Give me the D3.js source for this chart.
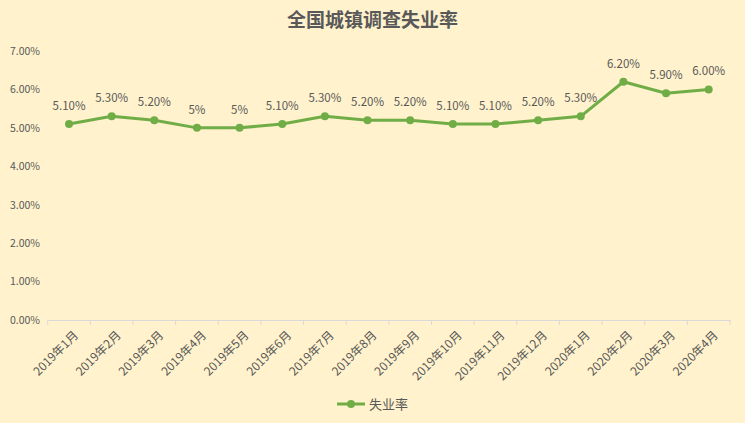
<!DOCTYPE html>
<html><head><meta charset="utf-8">
<script src="https://cdn.jsdelivr.net/npm/d3@7"></script>
<style>
html,body{margin:0;padding:0;background:#FFF2CC;}
svg{display:block;}
text{font-family:"Noto Sans CJK SC","Open Sans",sans-serif;}
</style></head>
<body>
<svg id="chart" width="745" height="423"></svg>
<script>
const categories = ["2019年1月","2019年2月","2019年3月","2019年4月","2019年5月","2019年6月","2019年7月","2019年8月","2019年9月","2019年10月","2019年11月","2019年12月","2020年1月","2020年2月","2020年3月","2020年4月"];
const values = [5.1,5.3,5.2,5.0,5.0,5.1,5.3,5.2,5.2,5.1,5.1,5.2,5.3,6.2,5.9,6.0];
const valueLabels = ["5.10%","5.30%","5.20%","5%","5%","5.10%","5.30%","5.20%","5.20%","5.10%","5.10%","5.20%","5.30%","6.20%","5.90%","6.00%"];
const yTicks = [0,1,2,3,4,5,6,7];
const title = "全国城镇调查失业率";
const seriesName = "失业率";

const svg = d3.select("#chart");
const W = 745, H = 423;
const color = "#70AD47", textColor = "#595959";
svg.append("rect").attr("width",W).attr("height",H).attr("fill","#FFF2CC");

const x = d3.scaleBand().domain(categories).range([47.7, 730]);
const y = d3.scaleLinear().domain([0,7]).range([320, 51]);

svg.append("text").attr("x", W/2).attr("y", 27).attr("text-anchor","middle")
  .attr("font-size", 19).attr("font-weight","bold").attr("fill", textColor).text(title);

// y axis labels
const yAxis = d3.axisLeft(y).tickValues(yTicks).tickSize(0).tickPadding(7)
  .tickFormat(d => d.toFixed(2) + "%");
const yg = svg.append("g").attr("transform","translate(47,0)").call(yAxis);
yg.select(".domain").remove();
yg.selectAll("text").attr("font-size", 10.5).attr("fill", textColor);

// x axis
const xAxis = d3.axisBottom(x).tickSize(5).tickSizeOuter(0);
const xg = svg.append("g").attr("transform","translate(0,320)").call(xAxis);
xg.select(".domain").attr("stroke","#D9D9D9").attr("stroke-width",1);
xg.selectAll(".tick line").remove();
const bounds = categories.map(c => x(c)).concat([x.range()[1]]);
xg.selectAll(".bt").data(bounds).enter().append("line")
  .attr("x1", d=>d).attr("x2", d=>d).attr("y1",0).attr("y2",5)
  .attr("stroke","#D9D9D9");
xg.selectAll(".tick text")
  .attr("font-size", 12).attr("fill", textColor)
  .attr("text-anchor","end")
  .attr("transform","translate(7,13) rotate(-45)")
  .attr("dy","0.35em").attr("y",0).attr("x",0);

const cx = c => x(c) + x.bandwidth()/2;
const line = d3.line().x((d,i)=>cx(categories[i])).y(d=>y(d));
svg.append("path").datum(values).attr("d", line)
  .attr("fill","none").attr("stroke", color).attr("stroke-width", 3).attr("stroke-linejoin","round");
svg.selectAll(".pt").data(values).enter().append("circle")
  .attr("cx",(d,i)=>cx(categories[i])).attr("cy", d=>y(d)).attr("r",4).attr("fill",color);
svg.selectAll(".lbl").data(values).enter().append("text")
  .attr("x",(d,i)=>cx(categories[i])).attr("y", d=>y(d)-14)
  .attr("text-anchor","middle").attr("font-size",11.5).attr("fill",textColor)
  .text((d,i)=>valueLabels[i]);

// legend
const lg = svg.append("g").attr("transform","translate(337,404)");
lg.append("line").attr("x1",0).attr("x2",28).attr("stroke",color).attr("stroke-width",3);
lg.append("circle").attr("cx",14).attr("r",4).attr("fill",color);
lg.append("text").attr("x",32).attr("y",0).attr("dy","0.35em").attr("font-size",13).attr("fill",textColor).text(seriesName);
</script>
</body></html>
